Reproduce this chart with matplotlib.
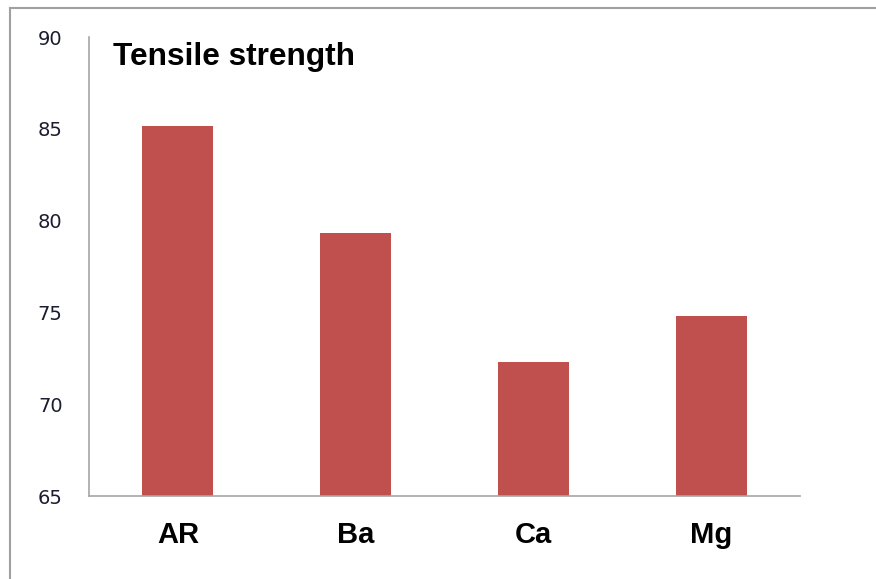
import matplotlib
matplotlib.use("Agg")
import matplotlib.pyplot as plt
from matplotlib.lines import Line2D

# tensile strength per sample
categories = ["AR", "Ba", "Ca", "Mg"]
strength = [85.15, 79.3, 72.3, 74.8]
y_ticks = [65, 70, 75, 80, 85, 90]

BAR_COLOR = "#C0504D"
AXIS_GRAY = "#A6A6A6"

fig = plt.figure(figsize=(8.76, 5.79), dpi=100)
W, H = 876, 579
ax = fig.add_axes([89 / W, 1 - 496 / H, (800 - 89) / W, (496 - 37) / H])

x = range(len(categories))
ax.bar(x, strength, width=0.4, color=BAR_COLOR, zorder=2)

ax.set_xlim(-0.5, len(categories) - 0.5)
ax.set_ylim(65, 90)
ax.set_yticks(y_ticks)
ax.set_yticklabels([str(t) for t in y_ticks], fontsize=14,
                   family="DejaVu Sans", color="#1c1c30")
ax.set_xticks(list(x))
ax.set_xticklabels(categories, fontsize=21, fontweight="bold",
                   family="Liberation Sans", color="black")
ax.tick_params(axis="y", length=0, pad=19)
ax.tick_params(axis="x", length=0, pad=18)

for side in ("top", "right"):
    ax.spines[side].set_visible(False)
for side in ("left", "bottom"):
    ax.spines[side].set_color(AXIS_GRAY)
    ax.spines[side].set_linewidth(1.2)

fig.text(113 / W, 1 - 57 / H, "Tensile strength", fontsize=22.8,
         fontweight="bold", family="Liberation Sans", va="center", ha="left")

# outer chart frame (left and top edges)
fig.add_artist(Line2D([9.5 / W, 9.5 / W], [0, 1 - 8 / H],
                      transform=fig.transFigure, color="#A0A0A0", lw=1.5))
fig.add_artist(Line2D([9.5 / W, 1], [1 - 8 / H, 1 - 8 / H],
                      transform=fig.transFigure, color="#A0A0A0", lw=1.5))

fig.savefig("out.png", dpi=100)
